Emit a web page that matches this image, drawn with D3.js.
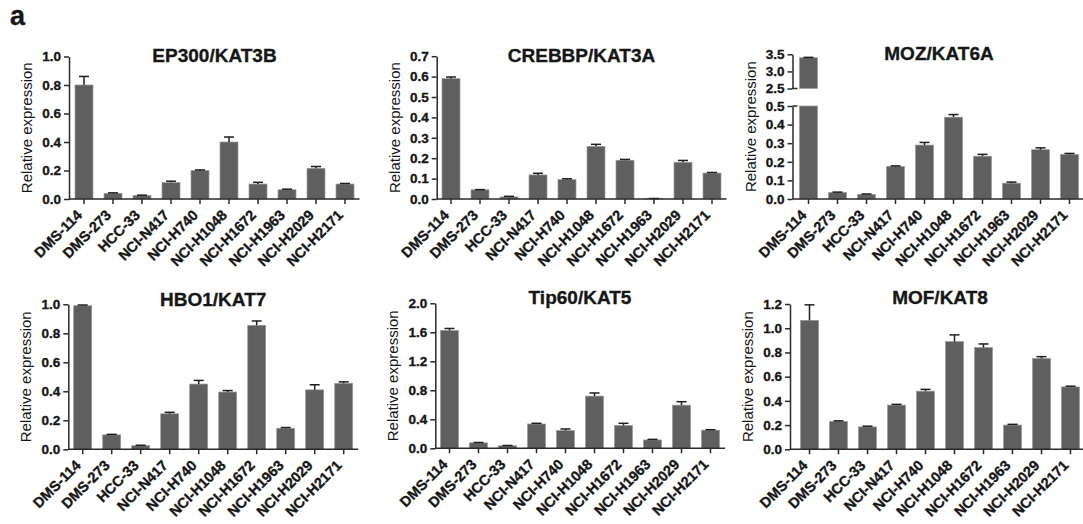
<!DOCTYPE html>
<html>
<head>
<meta charset="utf-8">
<script src="https://cdn.jsdelivr.net/npm/d3@7"></script>
<style>
  body { margin: 0; background: #fff; }
  svg { display: block; }
  text { font-family: "Liberation Sans", Arial, Helvetica, sans-serif; fill: #161616; }
  .heavy { stroke: #161616; stroke-width: 0.35px; paint-order: stroke; }
</style>
</head>
<body>
<svg id="chart" width="1083" height="524"></svg>
<script>
// ---- data: relative expression (mean and SEM) per cell line ----
const cellLines = ["DMS-114", "DMS-273", "HCC-33", "NCI-N417", "NCI-H740",
                   "NCI-H1048", "NCI-H1672", "NCI-H1963", "NCI-H2029", "NCI-H2171"];

const ep300Mean  = [0.80, 0.040, 0.025, 0.115, 0.200, 0.400, 0.105, 0.065, 0.215, 0.105];
const ep300Sem   = [0.060, 0.003, 0.002, 0.010, 0.004, 0.035, 0.012, 0.004, 0.013, 0.004];

const crebbpMean = [0.590, 0.045, 0.010, 0.118, 0.095, 0.258, 0.190, 0.002, 0.180, 0.127];
const crebbpSem  = [0.008, 0.001, 0.003, 0.008, 0.004, 0.010, 0.004, 0.0005, 0.009, 0.003];

const mozMean    = [3.40, 0.035, 0.025, 0.175, 0.290, 0.440, 0.230, 0.085, 0.265, 0.240];
const mozSem     = [0.010, 0.002, 0.002, 0.003, 0.014, 0.014, 0.010, 0.006, 0.010, 0.005];

const hbo1Mean   = [0.990, 0.100, 0.025, 0.245, 0.450, 0.395, 0.855, 0.145, 0.410, 0.455];
const hbo1Sem    = [0.005, 0.003, 0.003, 0.010, 0.025, 0.010, 0.030, 0.005, 0.035, 0.010];

const tip60Mean  = [1.625, 0.075, 0.035, 0.335, 0.245, 0.720, 0.315, 0.115, 0.595, 0.250];
const tip60Sem   = [0.028, 0.005, 0.004, 0.010, 0.022, 0.043, 0.030, 0.008, 0.048, 0.006];

const mofMean    = [1.065, 0.230, 0.185, 0.365, 0.480, 0.890, 0.840, 0.200, 0.750, 0.515];
const mofSem     = [0.128, 0.005, 0.006, 0.006, 0.015, 0.055, 0.030, 0.006, 0.015, 0.006];

// y-axis tick values
const ep300Ticks    = [0, 0.2, 0.4, 0.6, 0.8, 1.0];
const crebbpTicks   = [0, 0.1, 0.2, 0.3, 0.4, 0.5, 0.6, 0.7];
const mozLowerTicks = [0, 0.1, 0.2, 0.3, 0.4, 0.5];
const mozUpperTicks = [2.5, 3.0, 3.5];
const hbo1Ticks     = [0, 0.2, 0.4, 0.6, 0.8, 1.0];
const tip60Ticks    = [0, 0.4, 0.8, 1.2, 1.6, 2.0];
const mofTicks      = [0, 0.2, 0.4, 0.6, 0.8, 1.0, 1.2];

// ---- panel definitions ----
const panels = [
  { title: "EP300/KAT3B",  mean: ep300Mean,  sem: ep300Sem,
    segments: [{ domain: [0, 1.0], ticks: ep300Ticks }] },
  { title: "CREBBP/KAT3A", mean: crebbpMean, sem: crebbpSem,
    segments: [{ domain: [0, 0.7], ticks: crebbpTicks }] },
  { title: "MOZ/KAT6A",    mean: mozMean,    sem: mozSem,
    segments: [{ domain: [0, 0.5], ticks: mozLowerTicks },
               { domain: [2.5, 3.5], ticks: mozUpperTicks }] },
  { title: "HBO1/KAT7",    mean: hbo1Mean,   sem: hbo1Sem,
    segments: [{ domain: [0, 1.0], ticks: hbo1Ticks }] },
  { title: "Tip60/KAT5",   mean: tip60Mean,  sem: tip60Sem,
    segments: [{ domain: [0, 2.0], ticks: tip60Ticks }] },
  { title: "MOF/KAT8",     mean: mofMean,    sem: mofSem,
    segments: [{ domain: [0, 1.2], ticks: mofTicks }] }
];

// layout of each panel (pixel frame); segment pixel ranges as [bottom, top]
const layout = [
  { axisX: 69,    bandX: 69.5,  titleY: 61.5, ranges: [[199, 56.5]] },
  { axisX: 436.7, bandX: 436.5, titleY: 61.5, ranges: [[199, 56.2]] },
  { axisX: 792.5, bandX: 794,   titleY: 59.5, ranges: [[199, 106], [88.5, 54.3]] },
  { axisX: 68.3,  bandX: 68.2,  titleY: 305.5, ranges: [[449.3, 304.3]] },
  { axisX: 435.3, bandX: 435,   titleY: 303.5, ranges: [[448.3, 303.3]] },
  { axisX: 790,   bandX: 795,   titleY: 304,  ranges: [[449.3, 304]] }
];

const BAND_SPAN = 290;
const svg = d3.select("#chart");
const fmt = d3.format(".1f");

// panel letter
svg.append("text")
  .attr("x", 10).attr("y", 25)
  .attr("font-size", 27).attr("font-weight", "bold")
  .attr("class", "heavy")
  .text("a");

panels.forEach((p, i) => drawPanel(p, layout[i]));

function drawPanel(p, lay) {
  const g = svg.append("g");
  const x = d3.scaleBand()
    .domain(cellLines)
    .range([lay.bandX, lay.bandX + BAND_SPAN])
    .paddingInner(0.38)
    .paddingOuter(0.19);

  const baseY = lay.ranges[0][0];
  const topY = lay.ranges[lay.ranges.length - 1][1];

  const rows = cellLines.map((c, k) => ({ cell: c, mean: p.mean[k], sem: p.sem[k] }));

  p.segments.forEach((seg, s) => {
    const y = d3.scaleLinear().domain(seg.domain).range(lay.ranges[s]);

    // bars (clipped to this segment of the axis)
    g.append("g").selectAll("rect")
      .data(rows.filter(r => r.mean > seg.domain[0]))
      .join("rect")
      .attr("x", r => x(r.cell))
      .attr("width", x.bandwidth())
      .attr("y", r => y(Math.min(r.mean, seg.domain[1])))
      .attr("height", r => y(seg.domain[0]) - y(Math.min(r.mean, seg.domain[1])))
      .attr("fill", "#5f5f5f")
      .attr("stroke", "#9a9a9a")
      .attr("stroke-width", 0.7);

    // upper error bars (mean + SEM) for bars that end inside this segment
    const err = g.append("g").selectAll("g")
      .data(rows.filter(r => r.mean > seg.domain[0] && r.mean <= seg.domain[1]))
      .join("g")
      .attr("stroke", "#1e1e1e")
      .attr("stroke-width", 1.5);
    err.append("line")
      .attr("x1", r => x(r.cell) + x.bandwidth() / 2)
      .attr("x2", r => x(r.cell) + x.bandwidth() / 2)
      .attr("y1", r => y(r.mean))
      .attr("y2", r => y(r.mean + r.sem));
    err.append("line")
      .attr("x1", r => x(r.cell) + x.bandwidth() / 2 - 5)
      .attr("x2", r => x(r.cell) + x.bandwidth() / 2 + 5)
      .attr("y1", r => y(r.mean + r.sem))
      .attr("y2", r => y(r.mean + r.sem));

    // y axis segment
    const ax = g.append("g")
      .attr("transform", `translate(${lay.axisX},0)`)
      .call(d3.axisLeft(y).tickValues(seg.ticks).tickSize(5).tickSizeOuter(0).tickPadding(3).tickFormat(fmt));
    ax.attr("font-size", null).attr("font-family", null);
    ax.select(".domain").attr("stroke", "#2a2a2a").attr("stroke-width", 1.5);
    ax.selectAll(".tick line").attr("stroke", "#2a2a2a").attr("stroke-width", 1.5);
    ax.selectAll(".tick text")
      .attr("class", "heavy")
      .style("font-size", "13.5px").style("font-weight", "bold")
      .attr("fill", "#161616");

    // break marks at the inner ends of a split axis
    if (p.segments.length > 1) {
      const ends = s === 0 ? [seg.domain[1]] : [seg.domain[0]];
      ends.forEach(v => {
        g.append("line")
          .attr("x1", lay.axisX).attr("x2", lay.axisX + 5)
          .attr("y1", y(v)).attr("y2", y(v))
          .attr("stroke", "#2a2a2a").attr("stroke-width", 1.5);
      });
    }
  });

  // x axis with category ticks and rotated labels
  g.append("line")
    .attr("x1", lay.axisX).attr("x2", lay.bandX + BAND_SPAN)
    .attr("y1", baseY).attr("y2", baseY)
    .attr("stroke", "#2a2a2a").attr("stroke-width", 1.5);

  const cx = c => x(c) + x.bandwidth() / 2;
  g.append("g").selectAll("line")
    .data(cellLines)
    .join("line")
    .attr("x1", cx).attr("x2", cx)
    .attr("y1", baseY).attr("y2", baseY + 5)
    .attr("stroke", "#2a2a2a").attr("stroke-width", 1.5);

  g.append("g").selectAll("text")
    .data(cellLines)
    .join("text")
    .attr("class", "heavy")
    .attr("transform", c => `translate(${cx(c) - 1},${baseY + 17}) rotate(-45)`)
    .attr("text-anchor", "end")
    .style("font-size", "14.5px")
    .style("font-weight", "bold")
    .text(c => c);

  // y-axis title
  g.append("text")
    .attr("transform", `translate(${lay.axisX - 37},${(baseY + topY) / 2}) rotate(-90)`)
    .attr("text-anchor", "middle")
    .style("font-size", "15px")
    .text("Relative expression");

  // panel title
  g.append("text")
    .attr("class", "heavy")
    .attr("x", lay.bandX + BAND_SPAN / 2)
    .attr("y", lay.titleY)
    .attr("text-anchor", "middle")
    .style("font-size", "19px")
    .style("font-weight", "bold")
    .text(p.title);
}
</script>
</body>
</html>
